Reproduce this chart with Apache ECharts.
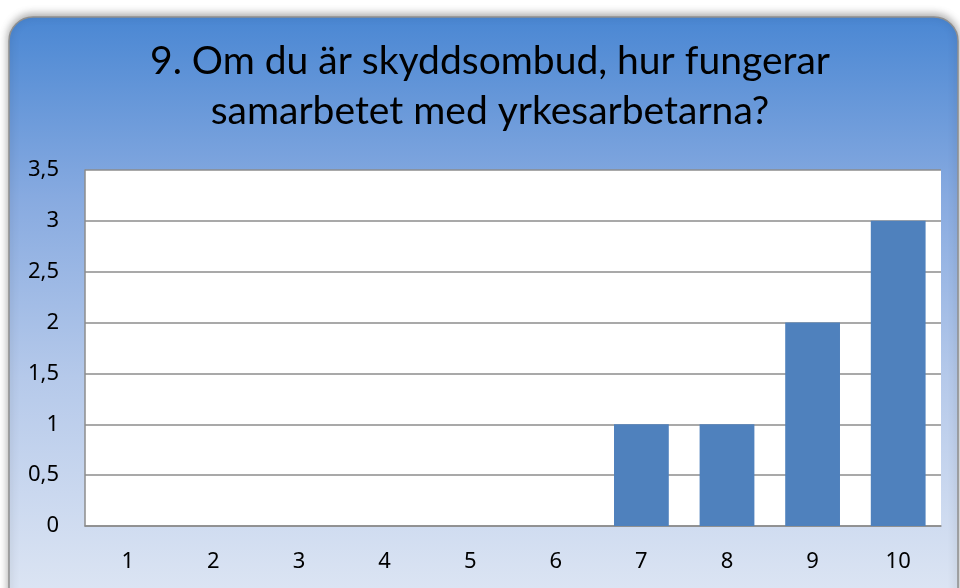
<!DOCTYPE html>
<html>
<head>
<meta charset="utf-8">
<script src="https://cdn.jsdelivr.net/npm/echarts@6/dist/echarts.min.js"></script>
<style>
  html, body { margin: 0; padding: 0; background: #fff; }
  #chart { width: 960px; height: 588px; }
</style>
</head>
<body>
<div id="chart"></div>
<script>
// svar per betyg 1-10
var categories = ['1', '2', '3', '4', '5', '6', '7', '8', '9', '10'];
var answers = [0, 0, 0, 0, 0, 0, 1, 1, 2, 3];
var titleLines = ['9. Om du är skyddsombud, hur fungerar', 'samarbetet med yrkesarbetarna?'];

var chart = echarts.init(document.getElementById('chart'));

// rubriken, en rad per textelement så att varje rad centreras
var titleItems = titleLines.map(function (line, i) {
  return {
    type: 'text',
    silent: true,
    x: 490,
    y: 42 + i * 50,
    style: {
      text: line,
      font: '39px Lato',
      fill: '#000',
      align: 'center',
      verticalAlign: 'top'
    }
  };
});

var option = {
  animation: false,
  backgroundColor: '#fff',
  textStyle: { fontFamily: 'Noto Sans', fontSize: 22 },
  graphic: [
    {
      type: 'rect',
      z: -10,
      silent: true,
      shape: { x: 9, y: 17, width: 949, height: 600, r: 24 },
      style: {
        fill: new echarts.graphic.LinearGradient(0, 0, 0, 1, [
          { offset: 0, color: '#4a87d3' },
          { offset: 0.3, color: '#87aae0' },
          { offset: 0.6, color: '#b5c9ea' },
          { offset: 0.95, color: '#dbe4f3' }
        ]),
        stroke: '#8f8f8f',
        lineWidth: 1.5,
        shadowBlur: 8,
        shadowColor: 'rgba(0,0,0,0.35)',
        shadowOffsetY: -2
      }
    }
  ].concat(titleItems),
  grid: {
    left: 85,
    right: 19,
    top: 170,
    bottom: 62,
    show: true,
    backgroundColor: '#fff',
    borderWidth: 0
  },
  xAxis: {
    type: 'category',
    data: categories,
    axisTick: { show: false },
    axisLine: { show: true, lineStyle: { color: '#8c8c8c', width: 1.5 } },
    axisLabel: {
      color: '#000',
      fontSize: 22,
      fontFamily: 'Noto Sans',
      margin: 25
    }
  },
  yAxis: {
    type: 'value',
    min: 0,
    max: 3.5,
    interval: 0.5,
    axisLine: { show: true, lineStyle: { color: '#8c8c8c', width: 1.5 } },
    axisTick: { show: false },
    splitLine: { lineStyle: { color: '#8c8c8c', width: 1.5 } },
    axisLabel: {
      color: '#000',
      fontSize: 22,
      fontFamily: 'Noto Sans',
      margin: 26,
      formatter: function (v) { return String(v).replace('.', ','); }
    }
  },
  series: [
    {
      type: 'bar',
      data: answers,
      barWidth: '64%',
      itemStyle: {
        color: '#4f81bd',
        borderWidth: 0
      }
    }
  ]
};

chart.setOption(option);
</script>
</body>
</html>
